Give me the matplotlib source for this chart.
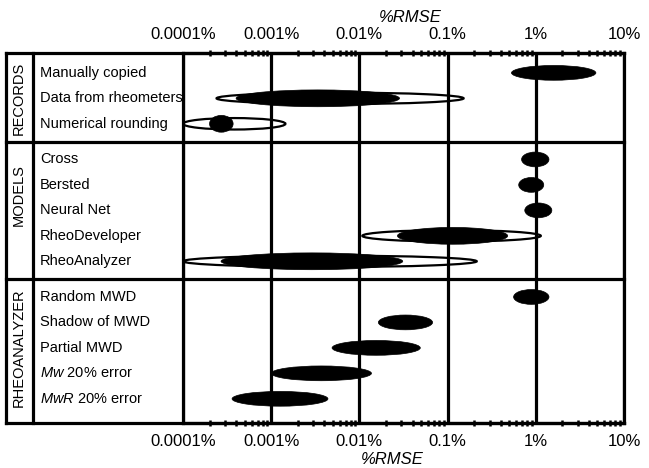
import numpy as np
import matplotlib
matplotlib.use('Agg')
import matplotlib.pyplot as plt
from matplotlib.patches import Ellipse
from matplotlib.ticker import FixedLocator

plt.rcParams['font.family'] = ['Liberation Sans', 'DejaVu Sans']
plt.rcParams['mathtext.fontset'] = 'custom'
plt.rcParams['mathtext.it'] = 'Liberation Sans:italic'
plt.rcParams['mathtext.rm'] = 'Liberation Sans'

# data (%RMSE ranges)
groups = ['RECORDS', 'MODELS', 'RHEOANALYZER']
group_sizes = [3, 5, 5]
categories = ['Manually copied', 'Data from rheometers', 'Numerical rounding',
              'Cross', 'Bersted', 'Neural Net', 'RheoDeveloper', 'RheoAnalyzer',
              'Random MWD', 'Shadow of MWD', 'Partial MWD',
              r'$\mathit{Mw}$ 20% error', r'$\mathit{MwR}$ 20% error']
rmse_lo = [0.53, 0.0004, 0.0002, 0.69, 0.64, 0.75, 0.027, 0.00027,
           0.56, 0.0164, 0.0049, 0.001, 0.00036]
rmse_hi = [4.8, 0.0285, 0.00037, 1.41, 1.23, 1.52, 0.48, 0.031,
           1.41, 0.0676, 0.049, 0.0137, 0.0044]
outer_lo = [None, 0.00024, 0.0001, None, None, None, 0.0108, 0.0001,
            None, None, None, None, None]
outer_hi = [None, 0.152, 0.00145, None, None, None, 1.14, 0.214,
            None, None, None, None, None]
tick_vals = [0.0001, 0.001, 0.01, 0.1, 1, 10]
tick_labels = ['0.0001%', '0.001%', '0.01%', '0.1%', '1%', '10%']

# row layout
pad_top, pad_in, pad_bot = 0.78, 0.7, 0.95
row_y = []
bounds = []
y = 0.0
for gi, n in enumerate(group_sizes):
    if gi > 0:
        y += pad_in
        bounds.append(y)
        y += pad_in
    for k in range(n):
        row_y.append(y)
        y += 1
    y -= 1
y_top = -pad_top
y_bot = y + pad_bot

fig = plt.figure(figsize=(6.49, 4.68), dpi=100)
ax = fig.add_axes([183 / 649, 1 - 423 / 468, 441 / 649, 370 / 468])
ax.set_xlim(np.log10(tick_vals[0]), np.log10(tick_vals[-1]))
ax.set_ylim(y_bot, y_top)

lw = 2.3
for i, yy in enumerate(row_y):
    if outer_lo[i] is not None:
        a, b = np.log10(outer_lo[i]), np.log10(outer_hi[i])
        ax.add_patch(Ellipse(((a + b) / 2, yy), b - a, 0.45, facecolor='none',
                             edgecolor='black', lw=1.6, zorder=3))
        h = 0.66
    else:
        h = 0.58
    a, b = np.log10(rmse_lo[i]), np.log10(rmse_hi[i])
    ax.add_patch(Ellipse(((a + b) / 2, yy), b - a, h, facecolor='black',
                         edgecolor='black', lw=0.5, zorder=4))

# axis / ticks
ax.set_xticks(np.log10(tick_vals))
ax.set_xticklabels(tick_labels, fontsize=12)
minor = [np.log10(k * 10.0 ** d) for d in range(-4, 1) for k in range(2, 10)]
ax.xaxis.set_minor_locator(FixedLocator(minor))
ax.tick_params(axis='x', which='major', length=0, pad=8, top=True, labeltop=True)
ax.tick_params(axis='x', which='minor', direction='inout', length=4, width=1.8, top=True)
ax.set_yticks([])
ax.grid(axis='x', which='major', color='black', lw=lw, zorder=1)
for s in ax.spines.values():
    s.set_linewidth(lw)

ax.text(0.515, 1.097, '%RMSE', transform=ax.transAxes, ha='center', va='center',
        fontsize=12, fontstyle='italic')
ax.text(0.475, -0.1, '%RMSE', transform=ax.transAxes, ha='center', va='center',
        fontsize=12, fontstyle='italic')

# table frame to the left
ytr = ax.get_yaxis_transform()
x_out, x_div = (6 - 183) / 441, (33 - 183) / 441
for yy in [y_top, y_bot] + bounds:
    ax.plot([x_out, 1], [yy, yy], transform=ytr, color='black', lw=lw,
            clip_on=False, solid_capstyle='projecting')
for xx in [x_out, x_div]:
    ax.plot([xx, xx], [0, 1], transform=ax.transAxes, color='black', lw=lw,
            clip_on=False, solid_capstyle='projecting')

for i, yy in enumerate(row_y):
    ax.text((40 - 183) / 441, yy, categories[i], transform=ytr, ha='left',
            va='center', fontsize=10.5)

group_label_shift = [0, -0.6, 0]
start = 0
for gi, n in enumerate(group_sizes):
    yc = (row_y[start] + row_y[start + n - 1]) / 2 + group_label_shift[gi]
    ax.text((19 - 183) / 441, yc, groups[gi], transform=ytr, rotation=90,
            ha='center', va='center', fontsize=10.5)
    start += n

fig.savefig('out.png', dpi=100)
